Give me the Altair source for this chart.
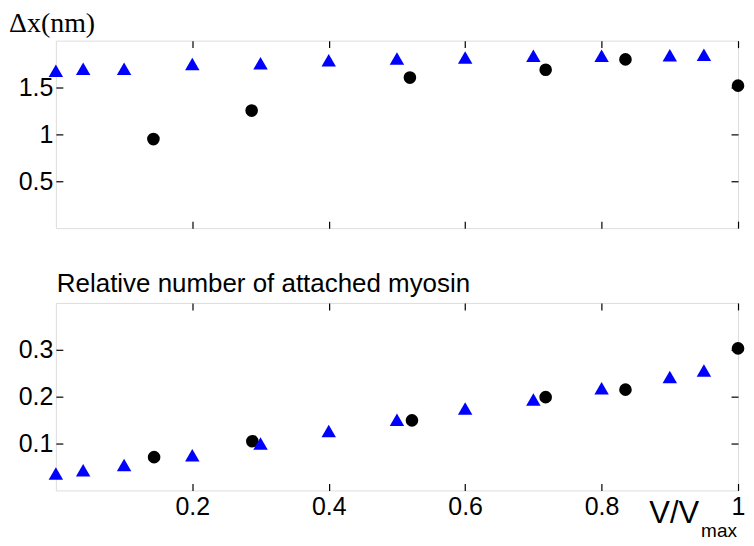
import altair as alt
import pandas as pd

# ---- data ----
x_ticks = [0.2, 0.4, 0.6, 0.8, 1]

x_model = [0, 0.04, 0.1, 0.2, 0.3, 0.4, 0.5, 0.6, 0.7, 0.8, 0.9, 0.95]
dx_model = [1.68, 1.70, 1.70, 1.75, 1.76, 1.79, 1.81, 1.82, 1.84, 1.84, 1.845, 1.85]
n_model = [0.036, 0.043, 0.054, 0.075, 0.100, 0.127, 0.151, 0.175, 0.194, 0.218, 0.242, 0.256]

x_exp_top = [0.143, 0.287, 0.519, 0.718, 0.835, 1.0]
dx_exp = [0.95, 1.254, 1.606, 1.69, 1.80, 1.52]
x_exp_bot = [0.144, 0.288, 0.522, 0.718, 0.835, 1.0]
n_exp = [0.071, 0.105, 0.1495, 0.199, 0.215, 0.303]

top_title = "Δx(nm)"
bot_title = "Relative number of attached myosin"
x_label_main = "V/V"
x_label_sub = "max"

W, H = 684, 188
LABEL_FONT = "Liberation Sans"
LS = 25
TS = 7


def axis(orient, values, labels, pad):
    return alt.Axis(orient=orient, values=values, format="~g", offset=-TS, ticks=True,
                    tickSize=TS, tickWidth=1.2, tickColor="black", tickOpacity=1,
                    domain=False, grid=False, labels=labels,
                    labelPadding=pad, labelFont=LABEL_FONT, labelFontSize=LS,
                    labelColor="black", title=None, labelFlush=False, labelOverlap=False,
                    zindex=2)


def panel(xm, ym, xe, ye, ydomain, yticks, show_xlabels, texts):
    xs = alt.Scale(domain=[0, 1], nice=False, zero=False)
    ys = alt.Scale(domain=ydomain, nice=False, zero=False)
    dfe = pd.DataFrame({"x": xe, "y": ye})
    dfm = pd.DataFrame({"x": xm, "y": ym})
    circles = alt.Chart(dfe).mark_point(shape="circle", filled=True, color="black",
                                        size=160, opacity=1).encode(
        x=alt.X("x:Q", scale=xs, axis=axis("bottom", x_ticks, show_xlabels, 4)),
        y=alt.Y("y:Q", scale=ys, axis=axis("left", yticks, True, 3)),
    )
    tris = alt.Chart(dfm).mark_point(shape="triangle-up", filled=True, color="#0000ff",
                                     size=210, opacity=1).encode(
        x=alt.X("x:Q", scale=xs, axis=axis("top", x_ticks, False, 4)),
        y=alt.Y("y:Q", scale=ys, axis=axis("right", yticks, False, 3)),
    )
    layers = [circles, tris]
    for t in texts:
        txt, px, py, font, size, align = t
        layers.append(
            alt.Chart(pd.DataFrame({"t": [txt]})).mark_text(
                align=align, baseline="alphabetic", font=font, fontSize=size, color="black"
            ).encode(x=alt.value(px), y=alt.value(py), text="t:N")
        )
    return alt.layer(*layers).resolve_axis(x="independent", y="independent").properties(
        width=W, height=H)


top = panel(x_model, dx_model, x_exp_top, dx_exp, [0, 2], [0.5, 1, 1.5], False,
            [(top_title, -47, -9, "Liberation Serif", 28, "left")])
bottom = panel(x_model, n_model, x_exp_bot, n_exp, [0, 0.4], [0.1, 0.2, 0.3], True,
               [(bot_title, 1, -11, LABEL_FONT, 26, "left"),
                (x_label_main, 645, 221, LABEL_FONT, 31, "right"),
                (x_label_sub, 647, 235, LABEL_FONT, 19, "left")])

chart = alt.vconcat(top, bottom, spacing=75, bounds="flush").properties(
    padding={"left": 0, "top": 0, "right": 0, "bottom": 0}
).configure_view(stroke="black", strokeWidth=1).configure(background="white")

chart.save("out.html", embed_options={"renderer": "svg", "actions": False})
